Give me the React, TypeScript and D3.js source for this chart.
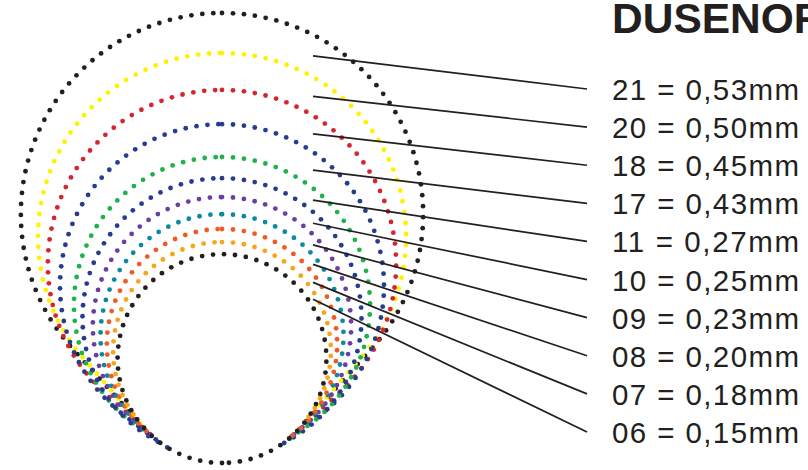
import React, { useMemo } from "react";
import * as d3 from "d3";

// nozzle sizes, from the outermost ring inwards
const nozzleCodes = ["21", "20", "18", "17", "11", "10", "09", "08", "07", "06"];
const nozzleMm = ["0,53", "0,50", "0,45", "0,43", "0,27", "0,25", "0,23", "0,20", "0,18", "0,15"];

// rings, outermost first (units: % of the figure height)
const ringRadius = [44.7, 40.9, 38.7, 36.0, 32.9, 31.0, 28.7, 27.0, 25.6, 24.2, 23.2];
const ringTop = [0, 8.9, 17.1, 24.7, 32.0, 36.7, 40.9, 44.7, 48.0, 50.9, 53.6];
const ringColors = [
  "#231f20", "#fff200", "#d7252d", "#263c8f", "#1fb24a", "#263c8f",
  "#6b3fa0", "#0a8aa0", "#f05a28", "#f9a51b", "#231f20",
];

const title = "DUSENOFFNUNG";

const W = 808;
const H = 470;
const DOT_GAP = 11;
const INK = "#231f20";

type Pt = [number, number];

// points along an arc, angle measured clockwise from the top
function arcPoints(cx: number, cy: number, r: number, a0: number, a1: number): Pt[] {
  const n = Math.max(2, Math.ceil((Math.abs(a1 - a0) * r) / 0.5));
  return d3.range(n + 1).map((i) => {
    const t = a0 + ((a1 - a0) * i) / n;
    return [cx + r * Math.sin(t), cy - r * Math.cos(t)] as Pt;
  });
}

function placeDots(pieces: Pt[][], gap: number): Pt[] {
  const out: Pt[] = [];
  let carry = 0;
  pieces.forEach((pts) => {
    for (let i = 1; i < pts.length; i++) {
      const [x0, y0] = pts[i - 1];
      const [x1, y1] = pts[i];
      const seg = Math.hypot(x1 - x0, y1 - y0);
      let t = carry;
      while (t <= seg) {
        out.push([x0 + ((x1 - x0) * t) / seg, y0 + ((y1 - y0) * t) / seg]);
        t += gap;
      }
      carry = t - seg;
    }
  });
  return out;
}

const App: React.FC = () => {
  const y = d3.scaleLinear().domain([0, 100]).range([13, 463]);
  const unit = y(1) - y(0);
  const cx = 222;
  const labelY = d3.scaleLinear().domain([0, nozzleCodes.length - 1]).range([100, 443]);

  const rings = useMemo(() => {
    return ringRadius.map((rr, i) => {
      const r = rr * unit;
      return { r, cy: y(ringTop[i]) + r, color: ringColors[i] };
    });
  }, []);

  const inner = rings[rings.length - 1];

  const dots = useMemo(() => {
    return rings.map((g, i) => {
      if (i === rings.length - 1) {
        return placeDots([arcPoints(cx, g.cy, g.r, Math.PI, 3 * Math.PI)], DOT_GAP);
      }
      const d = inner.cy - g.cy;
      const A = Math.asin((g.r - inner.r) / d);
      const cosA = Math.cos(A);
      const sinA = Math.sin(A);
      const right = arcPoints(cx, g.cy, g.r, 0, Math.PI / 2 + A);
      right.push([cx + inner.r * cosA, inner.cy + inner.r * sinA]);
      const left: Pt[] = [[cx - inner.r * cosA, inner.cy + inner.r * sinA]];
      left.push(...arcPoints(cx, g.cy, g.r, (3 * Math.PI) / 2 - A, 2 * Math.PI));
      return placeDots([right, left], DOT_GAP);
    });
  }, [rings]);

  // y of a ring's upper arc at a given x
  const arcY = (i: number, x: number) =>
    rings[i].cy - Math.sqrt(rings[i].r ** 2 - (x - cx) ** 2);

  const leadX0 = cx + 91;
  const leadX1 = 587;

  return (
    <svg width={W} height={H} style={{ position: "absolute", left: 0, top: 0, background: "#fff" }}>
      {dots.map((pts, i) => (
        <g key={i} fill={rings[i].color}>
          {pts.map(([px, py], j) => (
            <circle key={j} cx={px} cy={py} r={2.4} />
          ))}
        </g>
      ))}

      {nozzleCodes.map((code, i) => {
        const y0 = (arcY(i, leadX0) + arcY(i + 1, leadX0)) / 2;
        const y1 = labelY(i) - 11;
        return (
          <g key={code}>
            <line x1={leadX0} y1={y0} x2={leadX1} y2={y1} stroke={INK} strokeWidth={1.7} />
            <text
              x={612}
              y={labelY(i)}
              fill={INK}
              fontSize={29.5}
              fontFamily="'Liberation Sans', Arial, Helvetica, sans-serif"
              textLength={187}
              lengthAdjust="spacing"
            >
              {`${code} = ${nozzleMm[i]}mm`}
            </text>
          </g>
        );
      })}

      <text
        x={612}
        y={33.3}
        fill={INK}
        fontSize={42.5}
        fontWeight="bold"
        fontFamily="'Liberation Sans', Arial, Helvetica, sans-serif"
      >
        {title}
      </text>
    </svg>
  );
};

export default App;
